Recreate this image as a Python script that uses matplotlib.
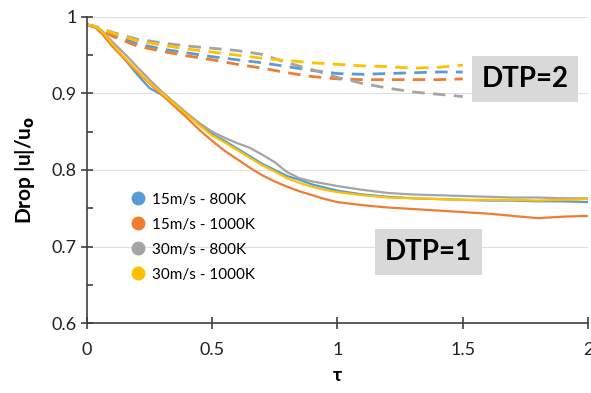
import matplotlib
matplotlib.use("Agg")
import matplotlib.pyplot as plt
from matplotlib.lines import Line2D
from matplotlib.ticker import MultipleLocator

plt.rcParams['font.family'] = ['Lato', 'DejaVu Sans']

# solid curves, DTP=1
tau_solid = [0, 0.03, 0.06, 0.1, 0.15, 0.2, 0.25, 0.3, 0.35, 0.4, 0.45, 0.5, 0.55, 0.6,
             0.65, 0.7, 0.75, 0.8, 0.85, 0.9, 0.95, 1.0, 1.1, 1.2, 1.3, 1.4, 1.5, 1.6,
             1.7, 1.8, 1.9, 2.0]
blue_1 = [0.99, 0.988, 0.982, 0.965, 0.945, 0.925, 0.907, 0.898, 0.886, 0.872, 0.860, 0.847,
          0.838, 0.828, 0.818, 0.808, 0.800, 0.792, 0.787, 0.781, 0.777, 0.773, 0.768, 0.765,
          0.763, 0.762, 0.761, 0.760, 0.760, 0.759, 0.759, 0.758]
orange_1 = [0.99, 0.987, 0.978, 0.962, 0.945, 0.928, 0.913, 0.898, 0.883, 0.868, 0.852, 0.838,
            0.825, 0.814, 0.803, 0.793, 0.785, 0.778, 0.772, 0.767, 0.762, 0.758, 0.754, 0.751,
            0.749, 0.747, 0.745, 0.743, 0.740, 0.737, 0.739, 0.740]
gray_1 = [0.99, 0.988, 0.982, 0.968, 0.952, 0.935, 0.918, 0.902, 0.888, 0.874, 0.861, 0.850,
          0.842, 0.835, 0.829, 0.820, 0.810, 0.797, 0.789, 0.785, 0.782, 0.779, 0.774, 0.770,
          0.768, 0.767, 0.766, 0.765, 0.764, 0.764, 0.763, 0.763]
yellow_1 = [0.99, 0.988, 0.981, 0.965, 0.947, 0.930, 0.914, 0.900, 0.886, 0.872, 0.858, 0.845,
            0.836, 0.826, 0.816, 0.806, 0.798, 0.789, 0.783, 0.778, 0.774, 0.771, 0.767, 0.764,
            0.763, 0.762, 0.761, 0.761, 0.761, 0.760, 0.761, 0.762]

# dashed curves, DTP=2
tau_dash = [0, 0.05, 0.1, 0.2, 0.3, 0.4, 0.5, 0.6, 0.7, 0.8, 0.9, 1.0, 1.1, 1.2, 1.3, 1.4, 1.5]
blue_2 = [0.99, 0.985, 0.977, 0.965, 0.958, 0.953, 0.948, 0.944, 0.940, 0.935, 0.930, 0.926,
          0.925, 0.926, 0.927, 0.928, 0.928]
orange_2 = [0.99, 0.985, 0.975, 0.962, 0.955, 0.949, 0.944, 0.938, 0.933, 0.927, 0.922, 0.919,
            0.918, 0.918, 0.918, 0.918, 0.919]
gray_2 = [0.99, 0.986, 0.980, 0.971, 0.966, 0.962, 0.959, 0.956, 0.951, 0.940, 0.931, 0.921,
          0.913, 0.907, 0.902, 0.899, 0.896]
yellow_2 = [0.99, 0.986, 0.979, 0.969, 0.963, 0.958, 0.954, 0.950, 0.946, 0.943, 0.940, 0.938,
            0.936, 0.935, 0.933, 0.934, 0.937]

labels = ['15m/s - 800K', '15m/s - 1000K', '30m/s - 800K', '30m/s - 1000K']
colors = ['#5B9BD5', '#ED7D31', '#A5A5A5', '#FFC000']

fig = plt.figure(figsize=(5.91, 3.93), dpi=100)
ax = fig.add_axes([0.147, 0.178, 0.848, 0.779])

for ys, c in zip([blue_2, orange_2, gray_2, yellow_2], colors):
    ax.plot(tau_dash, ys, color=c, lw=2.0, dashes=(4.5, 3))
for ys, c in zip([blue_1, orange_1, gray_1, yellow_1], colors):
    ax.plot(tau_solid, ys, color=c, lw=1.6)

ax.set_xlim(0, 2)
ax.set_ylim(0.6, 1.0)
ax.set_xticks([0, 0.5, 1, 1.5, 2])
ax.set_xticklabels(['0', '0.5', '1', '1.5', '2'])
ax.set_yticks([0.6, 0.7, 0.8, 0.9, 1.0])
ax.set_yticklabels(['0.6', '0.7', '0.8', '0.9', '1'])
ax.yaxis.set_minor_locator(MultipleLocator(0.05))
ax.grid(axis='y', which='major', color='#E0E0E0', lw=0.8)
ax.set_axisbelow(True)

for s in ['top', 'right']:
    ax.spines[s].set_visible(False)
for s in ['left', 'bottom']:
    ax.spines[s].set_color('#404040')
    ax.spines[s].set_linewidth(1.2)
ax.tick_params(which='major', direction='inout', length=8, width=1.2, color='#404040',
               labelsize=13, labelcolor='#222222')
ax.tick_params(axis='y', which='minor', direction='in', length=4, width=1.2, color='#404040')
ax.tick_params(axis='x', pad=10)

ax.set_xlabel('τ', fontsize=14, fontweight='bold', labelpad=6)
ax.set_ylabel(r'Drop |u|/u$_\mathbf{o}$', fontsize=15, fontweight='bold', labelpad=10)

handles = [Line2D([], [], ls='none', marker='o', ms=9, color=c) for c in colors]
ax.legend(handles, labels, loc='lower left', bbox_to_anchor=(0.06, 0.09), frameon=False,
          fontsize=11, handletextpad=0.4, labelspacing=0.72, handlelength=1.0)

box = dict(boxstyle='square,pad=0.35', facecolor='#D9D9D9', edgecolor='none')
ax.text(1.575, 0.919, 'DTP=2', fontsize=20, fontweight='bold', ha='left', va='center', bbox=box)
ax.text(1.19, 0.693, 'DTP=1', fontsize=20, fontweight='bold', ha='left', va='center', bbox=box)

fig.savefig('out.png', dpi=100)
